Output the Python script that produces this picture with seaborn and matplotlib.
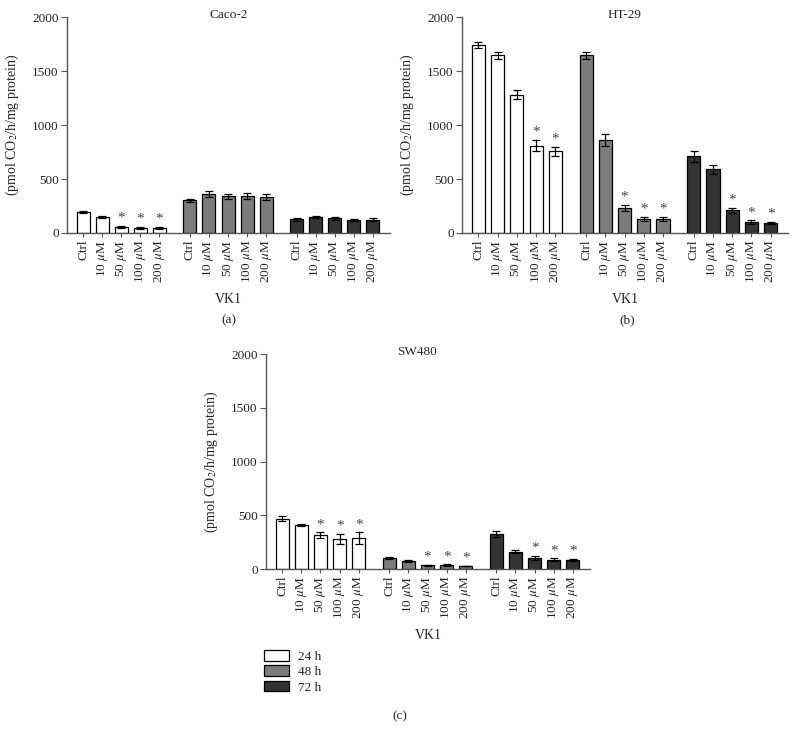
import numpy as np
import pandas as pd
import matplotlib
matplotlib.use('Agg')
import matplotlib.pyplot as plt
from matplotlib.patches import Patch
import seaborn as sns

# Concentraciones y tiempos
concentrations = ['Ctrl', '10 $\\mu$M', '50 $\\mu$M', '100 $\\mu$M', '200 $\\mu$M']
times = ['24 h', '48 h', '72 h']

# Caco-2 (media, error)
caco2_24 = [197, 150, 57, 48, 48]
caco2_48 = [301, 362, 338, 341, 332]
caco2_72 = [125, 146, 137, 122, 122]
caco2_24_err = [10, 12, 8, 8, 9]
caco2_48_err = [16, 25, 22, 30, 28]
caco2_72_err = [15, 10, 15, 12, 14]
caco2_24_star = [0, 0, 1, 1, 1]
caco2_48_star = [0, 0, 0, 0, 0]
caco2_72_star = [0, 0, 0, 0, 0]

# HT-29
ht29_24 = [1740, 1645, 1280, 810, 755]
ht29_48 = [1645, 858, 232, 130, 130]
ht29_72 = [710, 590, 210, 102, 92]
ht29_24_err = [30, 35, 42, 55, 40]
ht29_48_err = [30, 55, 28, 22, 22]
ht29_72_err = [50, 42, 25, 15, 10]
ht29_24_star = [0, 0, 0, 1, 1]
ht29_48_star = [0, 0, 1, 1, 1]
ht29_72_star = [0, 0, 1, 1, 1]

# SW480
sw480_24 = [468, 408, 314, 282, 286]
sw480_48 = [103, 74, 35, 37, 28]
sw480_72 = [328, 162, 104, 87, 84]
sw480_24_err = [25, 10, 27, 45, 55]
sw480_48_err = [12, 10, 5, 5, 4]
sw480_72_err = [28, 17, 20, 12, 10]
sw480_24_star = [0, 0, 1, 1, 1]
sw480_48_star = [0, 0, 1, 1, 1]
sw480_72_star = [0, 0, 1, 1, 1]

palette = {'24 h': '#ffffff', '48 h': '#7c7c7c', '72 h': '#333333'}

plt.rcParams['mathtext.fontset'] = 'stix'
sns.set_style('ticks')
plt.rcParams['font.family'] = ['Liberation Serif', 'DejaVu Serif']
plt.rcParams['font.size'] = 9.5

GROUP_STRIDE = 5.6


def build_frame(vals, errs, stars):
    rows = []
    for g, t in enumerate(times):
        for i, c in enumerate(concentrations):
            rows.append({'pos': g * GROUP_STRIDE + i, 'conc': c, 'time': t,
                         'value': vals[g][i], 'err': errs[g][i], 'star': stars[g][i]})
    return pd.DataFrame(rows)


def draw_panel(ax, df, title, title_x=0.5):
    sns.barplot(data=df, x='pos', y='value', hue='time', palette=palette,
                native_scale=True, dodge=False, width=0.68, errorbar=None,
                edgecolor='black', linewidth=0.9, legend=False, ax=ax)
    ax.errorbar(df['pos'], df['value'], yerr=df['err'], fmt='none',
                ecolor='black', elinewidth=0.9, capsize=2.8, capthick=0.9)
    for _, r in df[df['star'] == 1].iterrows():
        ax.text(r['pos'], r['value'] + r['err'] + 12, '*', ha='center', va='bottom',
                fontsize=11, color='#444444')
    ax.set_xlim(-0.85, 2 * GROUP_STRIDE + 4 + 0.9)
    ax.set_ylim(0, 2000)
    ax.set_yticks([0, 500, 1000, 1500, 2000])
    ax.set_xticks(df['pos'])
    ax.set_xticklabels(df['conc'], rotation=90)
    ax.tick_params(axis='x', length=3, width=0.8, color='#555555', pad=2, labelsize=9.5)
    ax.tick_params(axis='y', length=4, width=0.8, color='#555555', pad=2, labelsize=9.5)
    for s in ['top', 'right']:
        ax.spines[s].set_visible(False)
    for s in ['left', 'bottom']:
        ax.spines[s].set_color('#555555')
        ax.spines[s].set_linewidth(1.0)
    ax.set_xlabel('')
    ax.set_ylabel('(pmol CO$_2$/h/mg protein)', fontsize=10)
    ax.yaxis.set_label_coords(-0.142, 0.5)
    ax.text(title_x, 1.01, title, transform=ax.transAxes, ha='center', va='center',
            fontsize=9.5)
    ax.text(0.5, -67 / 216, 'VK1', transform=ax.transAxes, ha='center', va='center',
            fontsize=10)


W, H = 799, 731
fig = plt.figure(figsize=(W / 100, H / 100), dpi=100)

ax_a = fig.add_axes([67 / W, 1 - 233 / H, 323 / W, 216 / H])
ax_b = fig.add_axes([462 / W, 1 - 233 / H, 326 / W, 216 / H])
ax_c = fig.add_axes([266 / W, 1 - 569 / H, 324 / W, 215 / H])

df_a = build_frame([caco2_24, caco2_48, caco2_72],
                   [caco2_24_err, caco2_48_err, caco2_72_err],
                   [caco2_24_star, caco2_48_star, caco2_72_star])
df_b = build_frame([ht29_24, ht29_48, ht29_72],
                   [ht29_24_err, ht29_48_err, ht29_72_err],
                   [ht29_24_star, ht29_48_star, ht29_72_star])
df_c = build_frame([sw480_24, sw480_48, sw480_72],
                   [sw480_24_err, sw480_48_err, sw480_72_err],
                   [sw480_24_star, sw480_48_star, sw480_72_star])

draw_panel(ax_a, df_a, 'Caco-2')
draw_panel(ax_b, df_b, 'HT-29')
draw_panel(ax_c, df_c, 'SW480', title_x=0.465)

fig.text(229 / W, 1 - 320 / H, '(a)', ha='center', va='center', fontsize=9.5)
fig.text(627 / W, 1 - 320 / H, '(b)', ha='center', va='center', fontsize=9.5)
fig.text(400 / W, 1 - 716 / H, '(c)', ha='center', va='center', fontsize=9.5)

handles = [Patch(facecolor=palette[t], edgecolor='black', linewidth=0.9) for t in times]
fig.legend(handles, times, loc='upper left', bbox_to_anchor=(264 / W, 1 - 650 / H),
           frameon=False, handlelength=1.9, handleheight=0.85, labelspacing=0.2,
           handletextpad=0.7, fontsize=9.5, borderaxespad=0, borderpad=0)

fig.savefig('out.png', dpi=100)
